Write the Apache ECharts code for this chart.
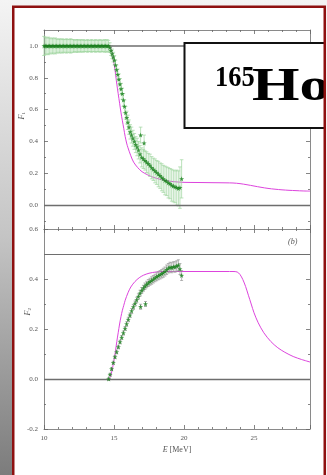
<!DOCTYPE html>
<html>
<head>
<meta charset="utf-8">
<script src="https://cdn.jsdelivr.net/npm/echarts@6/dist/echarts.min.js"></script>
<style>
  html, body { margin: 0; padding: 0; background: #fff; }
  #chart { width: 327px; height: 475px; }
</style>
</head>
<body>
<div id="chart"></div>
<script>
// ---------- data ----------
// F1: plateau region (E in MeV, value, error)
const f1FlatE = [10.0,10.1,10.2,10.3,10.4,10.5,10.6,10.7,10.8,10.9,11.0,11.1,11.2,11.3,11.4,11.5,11.6,11.7,11.8,11.9,12.0,12.1,12.2,12.3,12.4,12.5,12.6,12.7,12.8,12.9,13.0,13.1,13.2,13.3,13.4,13.5,13.6,13.7,13.8,13.9,14.0,14.1,14.2,14.3,14.4,14.5,14.6];
const f1FlatV = [1.0,1.0,1.0,1.0,1.0,1.0,1.0,1.0,1.0,1.0,1.0,1.0,1.0,1.0,1.0,1.0,1.0,1.0,1.0,1.0,1.0,1.0,1.0,1.0,1.0,1.0,1.0,1.0,1.0,1.0,1.0,1.0,1.0,1.0,1.0,1.0,1.0,1.0,1.0,1.0,1.0,1.0,1.0,1.0,1.0,1.0,1.0];
const f1FlatErr = [0.06,0.055,0.05,0.055,0.05,0.045,0.05,0.045,0.05,0.045,0.04,0.045,0.04,0.045,0.04,0.04,0.045,0.04,0.04,0.045,0.04,0.04,0.035,0.04,0.04,0.035,0.04,0.035,0.04,0.035,0.035,0.04,0.035,0.035,0.04,0.035,0.035,0.04,0.035,0.035,0.04,0.035,0.035,0.04,0.035,0.04,0.035];
// F1: falling region
const f1DropE = [14.7,14.79,14.87,14.95,15.03,15.11,15.19,15.27,15.35,15.43,15.51,15.59,15.67,15.75,15.83,15.91,15.99,16.07,16.16,16.25,16.35,16.45,16.55,16.65,16.75,16.86,16.9,16.98,17.1,17.15,17.22,17.33,17.45,17.57,17.69,17.81,17.93,18.05,18.17,18.29,18.41,18.52,18.64,18.76,18.88,19.0,19.12,19.24,19.36,19.48,19.6,19.71,19.83];
const f1DropV = [0.99,0.97,0.95,0.93,0.91,0.88,0.85,0.82,0.79,0.76,0.73,0.70,0.66,0.62,0.58,0.55,0.52,0.49,0.46,0.44,0.42,0.40,0.38,0.365,0.345,0.32,0.44,0.30,0.29,0.39,0.28,0.27,0.26,0.25,0.235,0.225,0.215,0.205,0.195,0.185,0.175,0.165,0.155,0.15,0.14,0.135,0.125,0.12,0.115,0.11,0.105,0.11,0.165];
const f1DropErr = [0.03,0.03,0.03,0.03,0.03,0.03,0.03,0.035,0.035,0.035,0.035,0.035,0.04,0.04,0.04,0.04,0.045,0.045,0.045,0.05,0.05,0.05,0.05,0.055,0.055,0.055,0.05,0.06,0.06,0.05,0.06,0.065,0.065,0.07,0.07,0.07,0.075,0.075,0.08,0.08,0.085,0.085,0.09,0.09,0.095,0.095,0.1,0.1,0.1,0.11,0.11,0.13,0.12];
// F1: model curve
const f1ModelE = [10,14.7,14.8,14.9,15.0,15.1,15.2,15.3,15.4,15.5,15.6,15.7,15.8,15.9,16.0,16.2,16.4,16.7,17.0,17.4,17.8,18.3,18.8,19.3,20,21,22,23,23.5,24,24.5,25,25.5,26,26.5,27,27.5,28,28.5,29];
const f1ModelV = [1.0,1.0,0.98,0.94,0.89,0.83,0.76,0.70,0.64,0.58,0.53,0.48,0.43,0.39,0.36,0.31,0.27,0.235,0.21,0.19,0.175,0.162,0.153,0.147,0.143,0.142,0.141,0.14,0.139,0.135,0.128,0.12,0.112,0.105,0.1,0.096,0.093,0.091,0.089,0.088];

// F2: measured points
const f2E = [14.62,14.72,14.83,14.95,15.07,15.19,15.31,15.43,15.55,15.67,15.79,15.9,16.02,16.14,16.26,16.38,16.5,16.62,16.74,16.86,16.9,16.98,17.1,17.21,17.25,17.33,17.45,17.57,17.69,17.81,17.93,18.05,18.17,18.29,18.41,18.52,18.64,18.76,18.88,19.0,19.12,19.24,19.36,19.48,19.6,19.71,19.83];
const f2V = [0.0,0.018,0.04,0.065,0.088,0.108,0.128,0.148,0.166,0.184,0.202,0.22,0.238,0.255,0.272,0.288,0.302,0.316,0.33,0.343,0.289,0.354,0.363,0.371,0.300,0.378,0.384,0.389,0.394,0.399,0.404,0.409,0.413,0.417,0.421,0.425,0.43,0.437,0.443,0.447,0.445,0.449,0.448,0.452,0.455,0.44,0.414];
const f2Err = [0.005,0.005,0.006,0.006,0.006,0.007,0.007,0.007,0.008,0.008,0.008,0.009,0.009,0.009,0.01,0.01,0.01,0.011,0.011,0.012,0.01,0.012,0.012,0.013,0.01,0.013,0.014,0.014,0.015,0.015,0.015,0.016,0.016,0.017,0.017,0.018,0.018,0.019,0.019,0.02,0.02,0.02,0.021,0.021,0.022,0.022,0.02];
// F2: model curve
const f2ModelE = [14.6,14.7,14.8,14.9,15.0,15.1,15.2,15.3,15.4,15.5,15.6,15.7,15.8,16.0,16.2,16.5,16.8,17.1,17.5,18.0,18.5,19,20,21,22,23,23.5,23.8,24.0,24.2,24.4,24.6,24.8,25.0,25.3,25.7,26.2,26.7,27.2,27.8,28.4,29];
const f2ModelV = [0,0.005,0.02,0.045,0.075,0.11,0.15,0.185,0.22,0.25,0.275,0.295,0.315,0.345,0.368,0.39,0.405,0.415,0.423,0.428,0.43,0.43,0.43,0.43,0.43,0.43,0.43,0.428,0.418,0.398,0.37,0.335,0.3,0.265,0.225,0.185,0.15,0.125,0.107,0.09,0.078,0.068];

// axis ticks
const xLabels = [10, 15, 20, 25];
const f1Major = [0.0, 0.2, 0.4, 0.6, 0.8, 1.0];
const f1Minor = [-0.1, 0.1, 0.3, 0.5, 0.7, 0.9];

// ---------- helpers ----------
const zip = (xs, ys) => xs.map((x, i) => [x, ys[i]]);
const zip3 = (xs, ys, es) => xs.map((x, i) => [x, ys[i], es[i]]);
const STAR = 'path://M0,-10L2.35,-3.24L9.51,-3.09L3.8,1.24L5.88,8.09L0,4L-5.88,8.09L-3.8,1.24L-9.51,-3.09L-2.35,-3.24Z';
const FONT = 'Liberation Serif';
const AXIS_C = '#8a8a8a';
const LABEL_C = '#555';
const GREEN = '#17801a';
const ERR_C = '#9fd59f';
const MAGENTA = '#dd44dd';

function errorBars(color, cap) {
  return function (params, api) {
    const x = api.value(0), y = api.value(1), e = api.value(2);
    const top = api.coord([x, y + e]);
    const bot = api.coord([x, y - e]);
    const s = { stroke: color, lineWidth: 0.7 };
    return {
      type: 'group',
      children: [
        { type: 'line', shape: { x1: top[0], y1: top[1], x2: bot[0], y2: bot[1] }, style: s },
        { type: 'line', shape: { x1: top[0] - cap, y1: top[1], x2: top[0] + cap, y2: top[1] }, style: s },
        { type: 'line', shape: { x1: bot[0] - cap, y1: bot[1], x2: bot[0] + cap, y2: bot[1] }, style: s }
      ]
    };
  };
}

function xAxisDef(grid, pos, withLabels) {
  return {
    type: 'value', gridIndex: grid, position: pos, min: 10, max: 29, interval: 5,
    axisLine: { show: true, onZero: false, lineStyle: { color: AXIS_C, width: 1 } },
    axisTick: { show: true, inside: true, length: 4, lineStyle: { color: '#666', width: 0.8 } },
    minorTick: { show: true, splitNumber: 5, length: 2, lineStyle: { color: '#666', width: 0.8 } },
    splitLine: { show: false },
    axisLabel: withLabels ? {
      show: true, margin: 6, color: LABEL_C, fontFamily: FONT, fontSize: 7,
      formatter: v => (xLabels.indexOf(v) >= 0 ? String(v) : '')
    } : { show: false },
    name: withLabels ? '{i|E} [MeV]' : '',
    nameLocation: 'middle', nameGap: 17,
    nameTextStyle: { color: LABEL_C, fontFamily: FONT, fontSize: 8,
      rich: { i: { fontStyle: 'italic', fontFamily: FONT, fontSize: 8, color: LABEL_C } } }
  };
}

function yCustom(grid, pos, ticks, len, labels, lineShow) {
  return {
    type: 'value', gridIndex: grid, position: pos, min: -0.15, max: 1.1,
    axisLine: { show: lineShow, onZero: false, lineStyle: { color: AXIS_C, width: 1 } },
    axisTick: { show: true, inside: true, length: len, customValues: ticks, lineStyle: { color: '#666', width: 0.8 } },
    axisLabel: labels ? { show: true, customValues: ticks, margin: 6, color: LABEL_C, fontFamily: FONT, fontSize: 7,
      formatter: v => v.toFixed(1) } : { show: false },
    splitLine: { show: false }
  };
}

function yF2(pos, labels) {
  return {
    type: 'value', gridIndex: 1, position: pos, min: -0.2, max: 0.6, interval: 0.2,
    axisLine: { show: true, onZero: false, lineStyle: { color: AXIS_C, width: 1 } },
    axisTick: { show: true, inside: true, length: 4, lineStyle: { color: '#666', width: 0.8 } },
    minorTick: { show: true, splitNumber: 2, length: 2, lineStyle: { color: '#666', width: 0.8 } },
    axisLabel: labels ? { show: true, margin: 6, color: LABEL_C, fontFamily: FONT, fontSize: 7,
      formatter: v => v.toFixed(1) } : { show: false },
    splitLine: { show: false }
  };
}

const refLine = (vals, widths) => ({
  silent: true, symbol: 'none', label: { show: false },
  data: vals.map((v, i) => ({ yAxis: v, lineStyle: { color: '#6e6e6e', width: widths[i], type: 'solid' } }))
});

const chart = echarts.init(document.getElementById('chart'), null, { renderer: 'canvas' });

chart.setOption({
  animation: false,
  backgroundColor: 'transparent',
  grid: [
    { left: 44, top: 30, width: 266, height: 199 },
    { left: 44, top: 229, width: 266, height: 200 }
  ],
  xAxis: [
    xAxisDef(0, 'bottom', false),
    xAxisDef(0, 'top', false),
    xAxisDef(1, 'bottom', true),
    xAxisDef(1, 'top', false)
  ],
  yAxis: [
    yCustom(0, 'left', f1Major, 4, true, true),
    yCustom(0, 'left', f1Minor, 2, false, false),
    yCustom(0, 'right', f1Major, 4, false, true),
    yCustom(0, 'right', f1Minor, 2, false, false),
    yF2('left', true),
    yF2('right', false)
  ],
  series: [
    {
      name: 'F1 model', type: 'line', xAxisIndex: 0, yAxisIndex: 0,
      data: zip(f1ModelE, f1ModelV), smooth: 0.3, showSymbol: false,
      lineStyle: { color: MAGENTA, width: 1 }, z: 3,
      markLine: refLine([1.0, 0.0], [1.6, 1.4])
    },
    {
      name: 'F1 errors', type: 'custom', xAxisIndex: 0, yAxisIndex: 0,
      data: zip3(f1FlatE.concat(f1DropE), f1FlatV.concat(f1DropV), f1FlatErr.concat(f1DropErr)),
      renderItem: errorBars(ERR_C, 1.8), z: 4
    },
    {
      name: 'F1 data', type: 'scatter', xAxisIndex: 0, yAxisIndex: 0,
      data: zip(f1FlatE.concat(f1DropE), f1FlatV.concat(f1DropV)),
      symbol: STAR, symbolSize: 5, itemStyle: { color: GREEN }, z: 5
    },
    {
      name: 'F2 model', type: 'line', xAxisIndex: 2, yAxisIndex: 4,
      data: zip(f2ModelE, f2ModelV), smooth: 0.3, showSymbol: false,
      lineStyle: { color: MAGENTA, width: 1 }, z: 3,
      markLine: refLine([0.0, 0.5], [1.4, 1])
    },
    {
      name: 'F2 errors', type: 'custom', xAxisIndex: 2, yAxisIndex: 4,
      data: zip3(f2E, f2V, f2Err),
      renderItem: errorBars('#9a9a9a', 1.5), z: 4
    },
    {
      name: 'F2 data', type: 'scatter', xAxisIndex: 2, yAxisIndex: 4,
      data: zip(f2E, f2V),
      symbol: STAR, symbolSize: 5, itemStyle: { color: GREEN }, z: 5
    }
  ],
  graphic: [
    { type: 'rect', z: -20, silent: true, shape: { x: 0, y: 0, width: 327, height: 475 },
      style: { fill: new echarts.graphic.LinearGradient(0, 0, 0, 1, [
        { offset: 0, color: '#f4f4f4' }, { offset: 0.5, color: '#c4c4c4' }, { offset: 1, color: '#7c7c7c' }]) } },
    { type: 'rect', z: -10, silent: true, shape: { x: 13.25, y: 6.75, width: 311.5, height: 480 },
      style: { fill: '#ffffff' } },
    { type: 'text', z: 50, silent: true, left: 18, top: 112, rotation: Math.PI / 2,
      style: { text: '{i|F}{s|1}', rich: {
        i: { fontFamily: FONT, fontStyle: 'italic', fontSize: 8, fill: LABEL_C },
        s: { fontFamily: FONT, fontSize: 5, fill: LABEL_C, padding: [4, 0, 0, 0] } } } },
    { type: 'text', z: 50, silent: true, left: 24, top: 308, rotation: Math.PI / 2,
      style: { text: '{i|F}{s|2}', rich: {
        i: { fontFamily: FONT, fontStyle: 'italic', fontSize: 8, fill: LABEL_C },
        s: { fontFamily: FONT, fontSize: 5, fill: LABEL_C, padding: [4, 0, 0, 0] } } } },
    { type: 'text', z: 50, silent: true, left: 288, top: 238,
      style: { text: '(b)', fontFamily: FONT, fontStyle: 'italic', fontSize: 8, fill: LABEL_C } },
    // title box
    { type: 'rect', z: 100, silent: true, shape: { x: 184.5, y: 43, width: 160, height: 85 },
      style: { fill: '#ffffff', stroke: '#111', lineWidth: 2 } },
    { type: 'text', z: 101, silent: true, x: 215, y: 78, scaleX: 0.88,
      style: { text: '165', fontFamily: FONT, fontWeight: 'bold', fontSize: 30, fill: '#000', textVerticalAlign: 'middle' } },
    { type: 'text', z: 101, silent: true, x: 252, y: 88, scaleX: 1.3,
      style: { text: 'Ho', fontFamily: FONT, fontWeight: 'bold', fontSize: 47, fill: '#000', textVerticalAlign: 'middle' } },
    // red frame drawn over everything
    { type: 'rect', z: 120, silent: true, shape: { x: 13.25, y: 6.75, width: 311.5, height: 480 },
      style: { fill: null, stroke: '#8e1010', lineWidth: 2.5 } },
    { type: 'rect', z: 121, silent: true, shape: { x: 326, y: 0, width: 2, height: 475 },
      style: { fill: '#f2f2f2' } }
  ]
});
</script>
</body>
</html>
